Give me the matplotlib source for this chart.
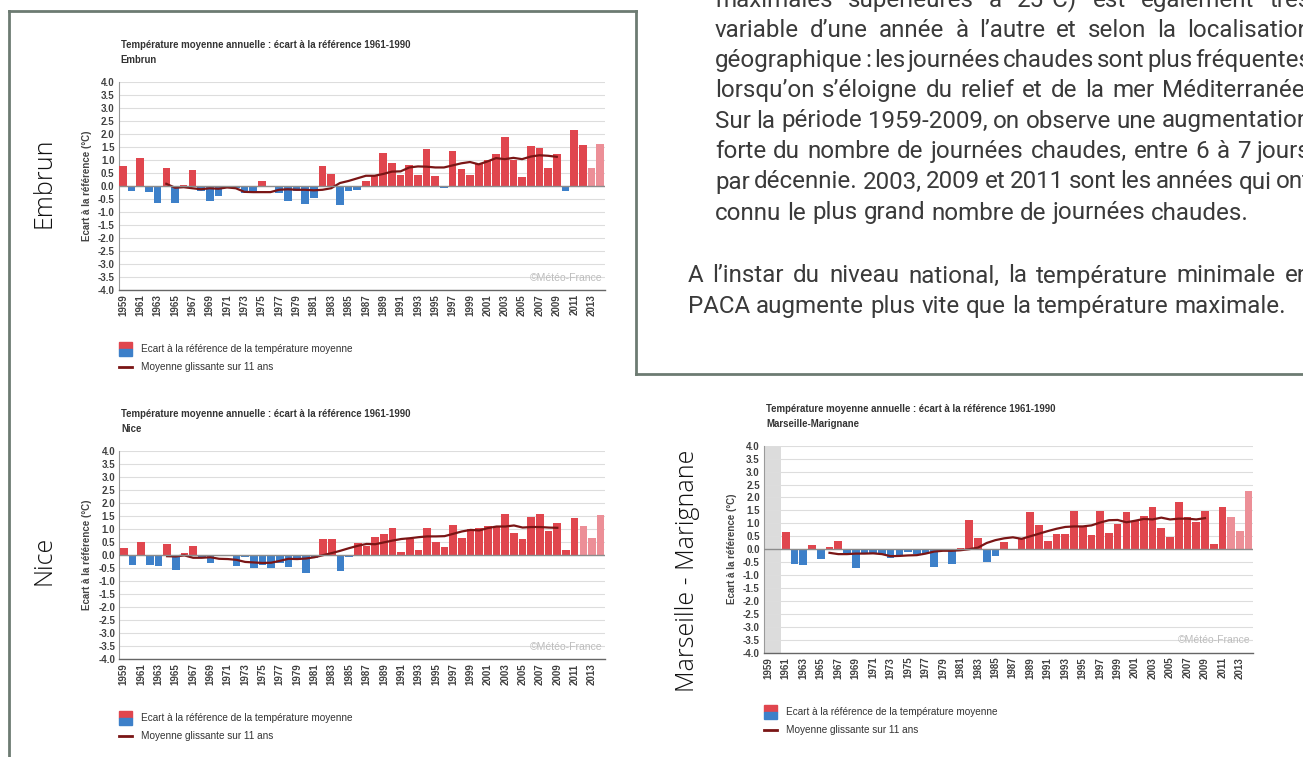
import numpy as np
import matplotlib
matplotlib.use("Agg")
import matplotlib.pyplot as plt
from matplotlib.patches import Rectangle
from matplotlib.lines import Line2D

# page size in pixels
W, H = 1303, 757

years = np.arange(1959, 2015)
tick_years = np.arange(1959, 2014, 2)

embrun = [0.78, -0.18, 1.09, -0.22, -0.65, 0.68, -0.63, 0.05, 0.63, -0.2,
          -0.58, -0.38, -0.08, -0.08, -0.25, -0.27, 0.18, -0.05, -0.27, -0.57,
          -0.2, -0.67, -0.47, 0.78, 0.45, -0.72, -0.2, -0.14, 0.18, 0.44,
          1.28, 0.91, 0.44, 0.81, 0.44, 1.45, 0.41, -0.08, 1.36, 0.65,
          0.44, 0.87, 0.99, 1.24, 1.9, 0.99, 0.37, 1.55, 1.47, 0.7,
          1.24, -0.17, 2.15, 1.6, 0.7, 1.64]
embrun_ma_years = np.arange(1964, 2010)
embrun_ma = [0.09, -0.06, -0.04, -0.08, -0.12, -0.08, -0.1, -0.05, -0.08, -0.22,
             -0.23, -0.23, -0.23, -0.14, -0.12, -0.14, -0.14, -0.16, -0.14, -0.08,
             0.12, 0.2, 0.3, 0.4, 0.4, 0.47, 0.56, 0.57, 0.72, 0.76,
             0.75, 0.72, 0.72, 0.8, 0.88, 0.93, 0.84, 0.95, 1.08, 1.04,
             1.09, 1.04, 1.14, 1.19, 1.17, 1.13]

nice = [0.28, -0.38, 0.51, -0.38, -0.41, 0.41, -0.58, 0.08, 0.35, -0.07,
        -0.31, -0.05, -0.04, -0.41, -0.08, -0.51, -0.38, -0.48, -0.3, -0.45,
        -0.14, -0.67, -0.11, 0.61, 0.61, -0.62, -0.08, 0.46, 0.34, 0.68,
        0.82, 1.05, 0.14, 0.63, 0.2, 1.05, 0.51, 0.31, 1.15, 0.65,
        1.0, 1.05, 1.13, 1.12, 1.59, 0.85, 0.63, 1.47, 1.59, 0.92,
        1.24, 0.2, 1.41, 1.12, 0.64, 1.55]
nice_ma_years = np.arange(1964, 2010)
nice_ma = [-0.04, -0.05, -0.01, -0.1, -0.1, -0.08, -0.14, -0.15, -0.18, -0.26,
           -0.28, -0.3, -0.29, -0.22, -0.14, -0.15, -0.13, -0.08, 0.0, 0.08,
           0.17, 0.27, 0.36, 0.43, 0.42, 0.49, 0.56, 0.62, 0.65, 0.69,
           0.72, 0.72, 0.73, 0.82, 0.91, 0.97, 0.95, 1.04, 1.1, 1.1,
           1.14, 1.06, 1.08, 1.08, 1.06, 1.05]

marseille = [np.nan, np.nan, 0.67, -0.58, -0.62, 0.16, -0.38, 0.07, 0.33, -0.14,
             -0.72, -0.14, -0.14, -0.17, -0.33, -0.26, -0.1, -0.2, -0.13, -0.7,
             -0.04, -0.58, 0.04, 1.13, 0.44, -0.49, -0.27, 0.26, -0.05, 0.38,
             1.42, 0.92, 0.32, 0.59, 0.59, 1.47, 0.86, 0.53, 1.49, 0.63,
             0.96, 1.42, 1.09, 1.29, 1.62, 0.82, 0.46, 1.83, 1.26, 1.06,
             1.46, 0.22, 1.65, 1.26, 0.69, 2.26]
marseille_ma_years = np.arange(1966, 2010)
marseille_ma = [-0.14, -0.19, -0.19, -0.17, -0.17, -0.16, -0.19, -0.27, -0.26, -0.24,
                -0.23, -0.17, -0.09, -0.06, -0.06, -0.04, 0.0, 0.06, 0.24, 0.35,
                0.42, 0.46, 0.4, 0.5, 0.6, 0.7, 0.79, 0.86, 0.88, 0.88,
                0.92, 1.03, 1.12, 1.13, 1.04, 1.1, 1.17, 1.15, 1.22, 1.15,
                1.18, 1.18, 1.15, 1.2]

chart_title = "Température moyenne annuelle : écart à la référence 1961-1990"
ylabel = "Ecart à la référence (°C)"
legend_bar = "Ecart à la référence de la température moyenne"
legend_line = "Moyenne glissante sur 11 ans"
credit = "©Météo-France"

paragraph_1 = [
    "maximales supérieures à 25°C) est également très",
    "variable d’une année à l’autre et selon la localisation",
    "géographique : les journées chaudes sont plus fréquentes",
    "lorsqu’on s’éloigne du relief et de la mer Méditerranée.",
    "Sur la période 1959-2009, on observe une augmentation",
    "forte du nombre de journées chaudes, entre 6 à 7 jours",
    "par décennie. 2003, 2009 et 2011 sont les années qui ont",
    "connu le plus grand nombre de journées chaudes.",
]
paragraph_2 = [
    "A l’instar du niveau national, la température minimale en",
    "PACA augmente plus vite que la température maximale.",
]

RED = "#e0464e"
BLUE = "#3d80c9"
LIGHT = "#ec8f97"
MA_COL = "#7a1515"
BORDER = "#6d7b72"
NARROW = ["Liberation Sans Narrow", "Liberation Sans", "DejaVu Sans"]


def fx(x):
    return x / W


def fy(y):
    return 1 - y / H


def draw_station(fig, box, station, label, label_xy, values, ma_years, ma_values,
                 light_from, no_data=None):
    left, top, right, bottom = box
    ax = fig.add_axes([fx(left), fy(bottom), fx(right) - fx(left), fy(top) - fy(bottom)])
    vals = np.array(values, dtype=float)
    ok = ~np.isnan(vals)
    colors = [LIGHT if y >= light_from else (RED if v >= 0 else BLUE)
              for y, v in zip(years[ok], vals[ok])]
    ax.bar(years[ok], vals[ok], width=0.88, color=colors, zorder=3)
    ax.plot(ma_years, ma_values, color=MA_COL, lw=1.6, zorder=4)
    if no_data is not None:
        ax.axvspan(no_data[0] - 0.5, no_data[1] + 0.5, color="#dcdcdc", lw=0, zorder=1)

    ax.set_xlim(1958.5, 2014.5)
    ax.set_ylim(-4, 4)
    ax.set_yticks(np.arange(-4, 4.01, 0.5))
    ax.set_yticklabels([f"{v:.1f}" for v in np.arange(-4, 4.01, 0.5)])
    ax.set_xticks(tick_years)
    ax.set_xticklabels([str(y) for y in tick_years], rotation=90)
    for t in ax.get_xticklabels() + ax.get_yticklabels():
        t.set_family(NARROW)
        t.set_fontweight("bold")
        t.set_fontsize(7)
        t.set_color("#404040")
    ax.tick_params(length=0, pad=3)
    ax.grid(axis="y", color="#dddddd", lw=0.8, zorder=0)
    ax.axhline(0, color="#8c8c8c", lw=1.0, zorder=5)
    for s in ["top", "right"]:
        ax.spines[s].set_visible(False)
    ax.spines["left"].set_color("#9a9a9a")
    ax.spines["left"].set_linewidth(0.8)
    ax.spines["bottom"].set_color("#666666")
    ax.spines["bottom"].set_linewidth(1.0)
    ax.text(0.995, 0.035, credit, transform=ax.transAxes, ha="right", va="bottom",
            fontsize=7.5, color="#bdbdbd", family=NARROW, zorder=6)

    # titles
    fig.text(fx(left + 2), fy(top - 37), chart_title, fontsize=6.9, fontweight="bold",
             family=NARROW, color="#333333", va="center")
    fig.text(fx(left + 2), fy(top - 22), station, fontsize=6.9, fontweight="bold",
             family=NARROW, color="#333333", va="center")
    fig.text(fx(left - 32), fy((top + bottom) / 2), ylabel, rotation=90, fontsize=7,
             fontweight="bold", family=NARROW, color="#444444", ha="center", va="center")

    # legend
    py = bottom + 52
    fig.patches.append(Rectangle((fx(left), fy(py + 7)), fx(13), 7 / H, color=RED,
                                 transform=fig.transFigure, figure=fig))
    fig.patches.append(Rectangle((fx(left), fy(py + 14)), fx(13), 7 / H, color=BLUE,
                                 transform=fig.transFigure, figure=fig))
    fig.text(fx(left + 22), fy(py + 7), legend_bar, fontsize=7.2, family=NARROW,
             color="#333333", va="center")
    fig.lines.append(Line2D([fx(left), fx(left + 13)], [fy(py + 25), fy(py + 25)],
                            color=MA_COL, lw=2, transform=fig.transFigure))
    fig.text(fx(left + 22), fy(py + 25), legend_line, fontsize=7.2, family=NARROW,
             color="#333333", va="center")

    # station name
    fig.text(fx(label_xy[0]), fy(label_xy[1]), label, rotation=90, fontsize=18,
             family=["Open Sans", "Lato", "DejaVu Sans"], fontweight="light",
             color="#111111", ha="center", va="center")
    return ax


fig = plt.figure(figsize=(W / 100, H / 100), dpi=100)
fig.patch.set_facecolor("white")

draw_station(fig, (118.6, 82.3, 604.5, 290), "Embrun", "Embrun", (44, 183),
             embrun, embrun_ma_years, embrun_ma, 2013)
draw_station(fig, (119.4, 451, 605, 659.3), "Nice", "Nice", (44, 560),
             nice, nice_ma_years, nice_ma, 2012)
draw_station(fig, (764, 445.7, 1253, 652.7), "Marseille-Marignane", "Marseille - Marignane",
             (688, 571), marseille, marseille_ma_years, marseille_ma, 2012,
             no_data=(1959, 1960))

# frame lines
fig.lines.append(Line2D([fx(8.5), fx(8.5)], [fy(757), fy(11)], color=BORDER, lw=2,
                        transform=fig.transFigure))
fig.lines.append(Line2D([fx(8.5), fx(636)], [fy(11), fy(11)], color=BORDER, lw=2,
                        transform=fig.transFigure))
fig.lines.append(Line2D([fx(636), fx(636)], [fy(11), fy(374)], color=BORDER, lw=2,
                        transform=fig.transFigure))
fig.lines.append(Line2D([fx(636), fx(1303)], [fy(374), fy(374)], color=BORDER, lw=2,
                        transform=fig.transFigure))

# body text, justified word by word
renderer = fig.canvas.get_renderer()
TXT_FAMILY = ["Roboto", "Lato", "DejaVu Sans"]
TXT_COL = "#3a3a3a"
TXT_WEIGHT = "normal"

probe = fig.text(0, 0, paragraph_1[-1], fontsize=10, family=TXT_FAMILY, fontweight=TXT_WEIGHT)
size = 10 * 534 / probe.get_window_extent(renderer).width
probe.remove()
sp = fig.text(0, 0, "n n", fontsize=size, family=TXT_FAMILY, fontweight=TXT_WEIGHT)
nn = fig.text(0, 0, "nn", fontsize=size, family=TXT_FAMILY, fontweight=TXT_WEIGHT)
space = sp.get_window_extent(renderer).width - nn.get_window_extent(renderer).width
sp.remove()
nn.remove()


def text_line(line, x0, x1, y, justify):
    words = line.split()
    items = [fig.text(0, fy(y), w, fontsize=size, family=TXT_FAMILY, fontweight=TXT_WEIGHT,
                      color=TXT_COL, va="baseline") for w in words]
    widths = [t.get_window_extent(renderer).width for t in items]
    gap = (x1 - x0 - sum(widths)) / (len(words) - 1) if justify else space
    x = x0
    for t, wd in zip(items, widths):
        t.set_x(fx(x))
        x += wd + gap


base_1 = [6.7, 36.7, 66.7, 96.7, 127.5, 158.3, 188.5, 219.5]
for i, line in enumerate(paragraph_1):
    text_line(line, 715, 1311, base_1[i], i < len(paragraph_1) - 1)
base_2 = [282.5, 312.5]
for i, line in enumerate(paragraph_2):
    text_line(line, 688, 1311, base_2[i], i == 0)

fig.savefig("out.png", dpi=100)
